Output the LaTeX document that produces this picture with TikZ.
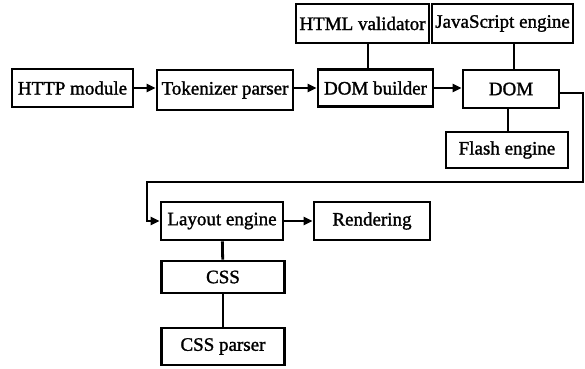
\documentclass[tikz,border=0pt]{standalone}
\usepackage{fontspec}
\setmainfont{Liberation Serif}
\newfontfamily\boxfont[FakeBold=1.4]{Liberation Serif}
\usetikzlibrary{arrows.meta}

\begin{document}
\begin{tikzpicture}[x=1pt,y=-1pt,line width=2.8pt,
    blk/.style={draw, inner sep=0pt, font=\boxfont\fontsize{19}{21}\selectfont},
    arr/.style={-{Triangle[length=9pt,width=8pt]}}]
        \useasboundingbox (0,0) rectangle (585,368);
        % top row
        \node[blk, minimum width=121, minimum height=38] (http) at (72.5,88) {HTTP module};
        \node[blk, minimum width=136, minimum height=40] (tok) at (225,90) {Tokenizer parser};
        \node[blk, minimum width=115, minimum height=37] (dombld) at (375.5,88) {DOM builder};
        \node[blk, minimum width=133, minimum height=39] (valid) at (362.5,23.5) {HTML validator};
        \node[blk, minimum width=141, minimum height=39] (js) at (502.5,23.5) {JavaScript engine};
        \node[blk, minimum width=96, minimum height=38] (dom) at (511,89) {DOM};
        \node[blk, minimum width=122, minimum height=36] (flash) at (507,150) {Flash engine};
        % bottom part
        \node[blk, minimum width=122, minimum height=38] (layout) at (222,221) {Layout engine};
        \node[blk, minimum width=116, minimum height=38] (render) at (372,221) {Rendering};
        \node[blk, minimum width=123, minimum height=32] (css) at (223,277) {CSS};
        \node[blk, minimum width=123, minimum height=37] (cssp) at (223,346.5) {CSS parser};
        \coordinate (r1) at (583,93);
        \coordinate (r2) at (147,182);
        \draw[arr] (http.east) -- (http.east -| tok.west);
        \draw[arr] (tok.east |- dombld) -- (dombld.west);
        \draw[arr] (dombld.east) -- (dombld.east -| dom.west);
        \draw (valid.south -| 368,0) -- (dombld.north -| 368,0);
        \draw (js.south -| 514,0) -- (dom.north -| 514,0);
        \draw (dom.south -| 508,0) -- (flash.north -| 508,0);
        \draw[arr] (dom.east |- r1) -| (r1) |- (r2) |- (layout.west);
        \draw[arr] (layout.east) -- (render.west);
        \draw (layout) -- (css);
        \draw (css) -- (cssp);
\end{tikzpicture}
\end{document}
